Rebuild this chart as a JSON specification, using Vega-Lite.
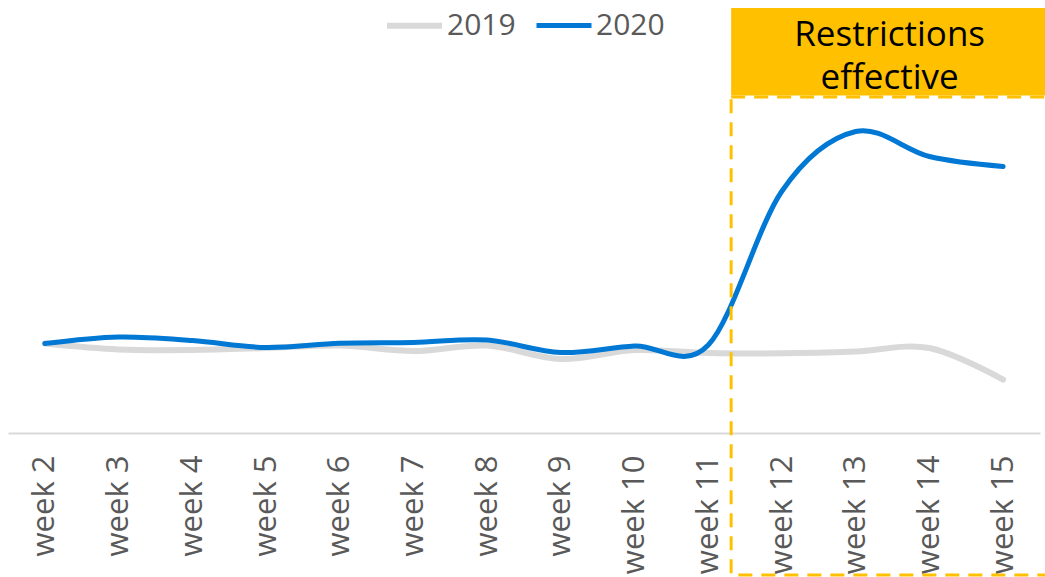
{
  "$schema": "https://vega.github.io/schema/vega-lite/v6.json",
  "width": 1032,
  "height": 433,
  "autosize": "none",
  "padding": {"left": 8, "top": 0, "right": 5, "bottom": 144},
  "config": {
    "view": {"stroke": null},
    "font": "Open Sans",
    "text": {"font": "Open Sans"}
  },
  "datasets": {
    "series": [
      {"week": 2, "year": "2019", "value": 99.4},
      {"week": 3, "year": "2019", "value": 92.8},
      {"week": 4, "year": "2019", "value": 92.2},
      {"week": 5, "year": "2019", "value": 94.4},
      {"week": 6, "year": "2019", "value": 97.2},
      {"week": 7, "year": "2019", "value": 91.1},
      {"week": 8, "year": "2019", "value": 97.2},
      {"week": 9, "year": "2019", "value": 82.2},
      {"week": 10, "year": "2019", "value": 92.2},
      {"week": 11, "year": "2019", "value": 88.9},
      {"week": 12, "year": "2019", "value": 88.6},
      {"week": 13, "year": "2019", "value": 90.6},
      {"week": 14, "year": "2019", "value": 94.4},
      {"week": 15, "year": "2019", "value": 59.4},
      {"week": 2, "year": "2020", "value": 99.4},
      {"week": 3, "year": "2020", "value": 106.7},
      {"week": 4, "year": "2020", "value": 102.8},
      {"week": 5, "year": "2020", "value": 95.0},
      {"week": 6, "year": "2020", "value": 99.7},
      {"week": 7, "year": "2020", "value": 100.6},
      {"week": 8, "year": "2020", "value": 103.3},
      {"week": 9, "year": "2020", "value": 89.4},
      {"week": 10, "year": "2020", "value": 96.7},
      {"week": 11, "year": "2020", "value": 97.8},
      {"week": 12, "year": "2020", "value": 268.9},
      {"week": 13, "year": "2020", "value": 335.0},
      {"week": 14, "year": "2020", "value": 307.2},
      {"week": 15, "year": "2020", "value": 296.1}
    ],
    "fillbox": [{"x1": 11.31, "x2": 15.7, "y1": 375.0, "y2": 472.2}],
    "dashbox": [{"x1": 11.31, "x2": 15.7, "y1": -157.8, "y2": 373.3}],
    "label": [{"x": 13.46, "y": 442.5, "text": ["Restrictions", "effective"]}]
  },
  "layer": [
    {
      "data": {"name": "fillbox"},
      "mark": {"type": "rect", "fill": "#ffc000"},
      "encoding": {
        "x": {"field": "x1", "type": "quantitative", "scale": {"domain": [1.5, 15.5], "nice": false, "zero": false},
              "axis": {"values": [2,3,4,5,6,7,8,9,10,11,12,13,14,15], "labelExpr": "'week ' + datum.value", "labelAngle": -90, "labelAlign": "right", "labelBaseline": "middle", "labelPadding": 22, "ticks": false, "tickSize": 0, "grid": false, "domainColor": "#d9d9d9", "domainWidth": 2, "title": null, "labelFontSize": 31, "labelColor": "#595959", "labelFont": "Open Sans", "labelOverlap": false, "labelBound": false, "labelFlush": false}},
        "x2": {"field": "x2"},
        "y": {"field": "y1", "type": "quantitative", "scale": {"domain": [0, 481.1], "nice": false, "zero": false}, "axis": null},
        "y2": {"field": "y2"}
      }
    },
    {
      "data": {"name": "series"},
      "mark": {"type": "line", "interpolate": "cardinal", "strokeCap": "round", "strokeJoin": "round"},
      "encoding": {
        "x": {"field": "week", "type": "quantitative"},
        "y": {"field": "value", "type": "quantitative"},
        "color": {
          "field": "year", "type": "nominal",
          "scale": {"domain": ["2019", "2020"], "range": ["#d9d9d9", "#0078d4"]},
          "legend": {"orient": "none", "legendX": 376, "legendY": -5, "direction": "horizontal", "title": null,
                     "symbolType": "stroke", "symbolSize": 3025, "symbolStrokeWidth": 5, "labelFontSize": 30,
                     "labelColor": "#595959", "labelFont": "Open Sans", "labelOffset": 2, "columnPadding": 10, "padding": 0}
        },
        "strokeWidth": {"field": "year", "type": "nominal", "scale": {"domain": ["2019", "2020"], "range": [6, 5]}, "legend": null},
        "order": {"field": "week", "type": "quantitative"}
      }
    },
    {
      "data": {"name": "dashbox"},
      "mark": {"type": "rect", "fill": null, "fillOpacity": 0, "stroke": "#ffc000", "strokeWidth": 3, "strokeDash": [14, 9]},
      "encoding": {
        "x": {"field": "x1", "type": "quantitative"},
        "x2": {"field": "x2"},
        "y": {"field": "y1", "type": "quantitative"},
        "y2": {"field": "y2"}
      }
    },
    {
      "data": {"name": "label"},
      "mark": {"type": "text", "fontSize": 35, "color": "#000000", "lineHeight": 43, "align": "center", "baseline": "middle", "font": "Open Sans"},
      "encoding": {
        "x": {"field": "x", "type": "quantitative"},
        "y": {"field": "y", "type": "quantitative"},
        "text": {"field": "text"}
      }
    }
  ]
}
